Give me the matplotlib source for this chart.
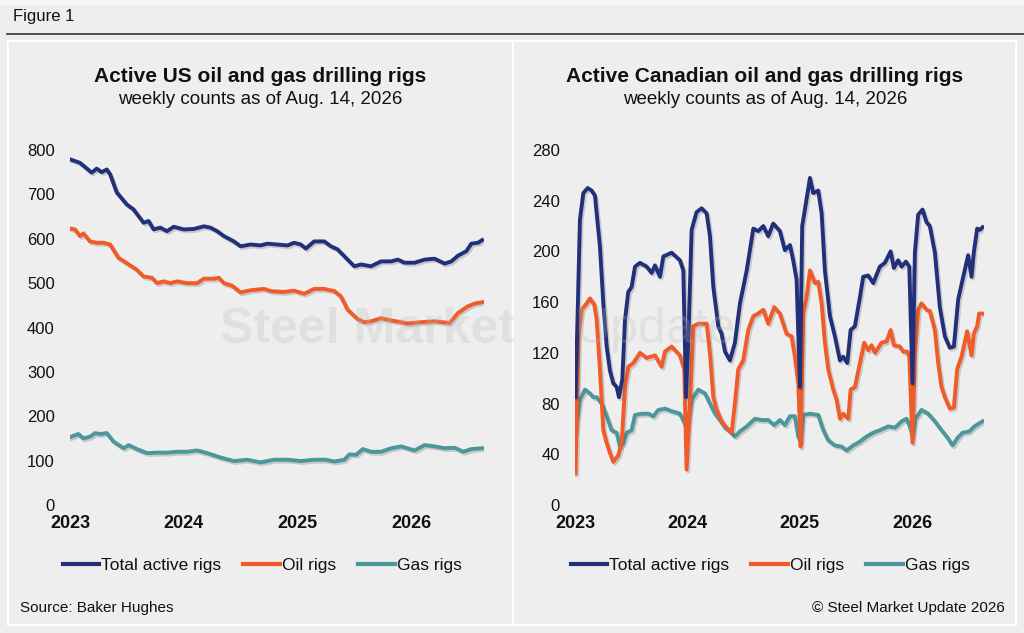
################################################################################
import numpy as np;
import matplotlib;
matplotlib.use('Agg');
import matplotlib.pyplot as plt;
import matplotlib.patheffects as pe;
from matplotlib.patches import Rectangle;
from matplotlib.lines import Line2D;
################################################################################
plt.rcParams['font.family'] = ['Liberation Sans', 'DejaVu Sans'];
################################################################################
# data (decimal years, weekly rig counts)
us_total_t = [2023.000, 2023.088, 2023.191, 2023.235, 2023.279, 2023.324, 2023.353,
    2023.412, 2023.500, 2023.559, 2023.647, 2023.691, 2023.735, 2023.794, 2023.853,
    2023.912, 2024.000, 2024.088, 2024.176, 2024.235, 2024.294, 2024.353, 2024.441,
    2024.500, 2024.588, 2024.676, 2024.735, 2024.824, 2024.912, 2024.971, 2025.029,
    2025.074, 2025.147, 2025.235, 2025.294, 2025.353, 2025.441, 2025.500, 2025.559,
    2025.647, 2025.735, 2025.824, 2025.882, 2025.941, 2026.029, 2026.118, 2026.206,
    2026.294, 2026.353, 2026.412, 2026.485, 2026.529, 2026.588, 2026.624];
us_total = [779, 771, 749, 758, 750, 756, 745, 704, 677, 666, 636, 640, 621, 625, 617,
    627, 621, 622, 628, 625, 617, 606, 594, 583, 587, 585, 589, 587, 585, 591, 587,
    578, 594, 594, 583, 576, 553, 538, 542, 538, 549, 549, 553, 546, 546, 553, 555,
    544, 549, 562, 572, 589, 591, 597];

us_oil_t = [2023.000, 2023.044, 2023.088, 2023.118, 2023.176, 2023.235, 2023.294,
    2023.353, 2023.426, 2023.500, 2023.588, 2023.647, 2023.721, 2023.765, 2023.824,
    2023.882, 2023.941, 2024.029, 2024.118, 2024.176, 2024.265, 2024.309, 2024.353,
    2024.426, 2024.500, 2024.588, 2024.706, 2024.765, 2024.882, 2024.971, 2025.059,
    2025.147, 2025.235, 2025.324, 2025.382, 2025.441, 2025.529, 2025.588, 2025.647,
    2025.735, 2025.824, 2025.912, 2025.971, 2026.088, 2026.206, 2026.338, 2026.412,
    2026.500, 2026.559, 2026.624];
us_oil = [623, 621, 606, 612, 594, 591, 591, 587, 557, 545, 530, 515, 512, 500, 504,
    500, 504, 500, 500, 510, 510, 512, 500, 494, 479, 484, 487, 482, 480, 483, 476,
    487, 487, 482, 470, 440, 419, 412, 414, 421, 416, 412, 409, 412, 414, 410, 433,
    448, 454, 457];

us_gas_t = [2023.000, 2023.074, 2023.118, 2023.176, 2023.221, 2023.265, 2023.324,
    2023.382, 2023.471, 2023.515, 2023.588, 2023.676, 2023.765, 2023.853, 2023.941,
    2024.029, 2024.118, 2024.206, 2024.324, 2024.441, 2024.559, 2024.676, 2024.794,
    2024.912, 2025.029, 2025.147, 2025.250, 2025.324, 2025.412, 2025.456, 2025.515,
    2025.574, 2025.647, 2025.735, 2025.824, 2025.912, 2026.029, 2026.118, 2026.206,
    2026.294, 2026.382, 2026.456, 2026.529, 2026.624];
us_gas = [153, 160, 150, 154, 162, 160, 162, 143, 128, 135, 126, 117, 118, 118, 120,
    120, 123, 117, 107, 99, 102, 96, 102, 102, 99, 102, 102, 98, 102, 114, 113, 126,
    120, 120, 128, 132, 123, 135, 132, 128, 129, 120, 126, 128];

ca_total_t = [2023.005, 2023.044, 2023.074, 2023.113, 2023.148, 2023.178, 2023.193,
    2023.222, 2023.252, 2023.282, 2023.311, 2023.341, 2023.371, 2023.391, 2023.421,
    2023.445, 2023.474, 2023.504, 2023.534, 2023.578, 2023.638, 2023.682, 2023.712,
    2023.756, 2023.786, 2023.860, 2023.934, 2023.964, 2023.988, 2024.008, 2024.038,
    2024.082, 2024.127, 2024.172, 2024.201, 2024.231, 2024.275, 2024.305, 2024.335,
    2024.379, 2024.423, 2024.468, 2024.528, 2024.587, 2024.631, 2024.676, 2024.720,
    2024.764, 2024.824, 2024.868, 2024.913, 2024.942, 2024.972, 2025.002, 2025.022,
    2025.055, 2025.091, 2025.120, 2025.165, 2025.195, 2025.224, 2025.269, 2025.313,
    2025.358, 2025.387, 2025.423, 2025.453, 2025.491, 2025.536, 2025.565, 2025.610,
    2025.654, 2025.713, 2025.758, 2025.809, 2025.838, 2025.876, 2025.907, 2025.945,
    2025.975, 2026.004, 2026.025, 2026.054, 2026.093, 2026.129, 2026.158, 2026.203,
    2026.247, 2026.292, 2026.336, 2026.372, 2026.410, 2026.455, 2026.499, 2026.529,
    2026.549, 2026.579, 2026.603, 2026.627];
ca_total = [85, 225, 246, 250, 248, 244, 230, 204, 159, 125, 106, 96, 93, 85, 99, 146,
    168, 172, 188, 191, 188, 183, 189, 180, 196, 199, 193, 185, 85, 128, 217, 231, 234,
    230, 212, 172, 141, 135, 121, 114, 128, 159, 185, 218, 216, 220, 212, 222, 216, 201,
    205, 193, 178, 93, 220, 238, 258, 246, 248, 230, 185, 149, 133, 114, 117, 112, 138,
    141, 164, 180, 181, 175, 188, 191, 200, 187, 193, 188, 192, 188, 96, 199, 229, 233,
    223, 220, 199, 156, 133, 124, 125, 162, 180, 197, 180, 199, 218, 217, 219];

ca_oil_t = [2023.005, 2023.030, 2023.060, 2023.104, 2023.133, 2023.172, 2023.193,
    2023.222, 2023.252, 2023.282, 2023.311, 2023.341, 2023.385, 2023.415, 2023.445,
    2023.474, 2023.519, 2023.578, 2023.638, 2023.712, 2023.771, 2023.801, 2023.860,
    2023.934, 2023.972, 2023.993, 2024.023, 2024.053, 2024.097, 2024.172, 2024.201,
    2024.231, 2024.261, 2024.305, 2024.350, 2024.394, 2024.423, 2024.453, 2024.497,
    2024.542, 2024.587, 2024.631, 2024.676, 2024.720, 2024.773, 2024.824, 2024.883,
    2024.928, 2024.957, 2024.987, 2025.008, 2025.031, 2025.061, 2025.091, 2025.135,
    2025.165, 2025.195, 2025.224, 2025.254, 2025.298, 2025.328, 2025.358, 2025.387,
    2025.432, 2025.453, 2025.491, 2025.536, 2025.574, 2025.610, 2025.639, 2025.669,
    2025.728, 2025.773, 2025.809, 2025.838, 2025.891, 2025.921, 2025.957, 2025.975,
    2026.004, 2026.025, 2026.054, 2026.084, 2026.129, 2026.158, 2026.203, 2026.232,
    2026.262, 2026.292, 2026.336, 2026.372, 2026.401, 2026.440, 2026.490, 2026.529,
    2026.549, 2026.579, 2026.597, 2026.627];
ca_oil = [25, 133, 154, 159, 163, 158, 146, 107, 59, 49, 41, 34, 39, 49, 93, 109, 112,
    120, 116, 118, 109, 121, 125, 118, 107, 28, 80, 141, 143, 143, 120, 85, 75, 66, 61,
    57, 80, 107, 114, 138, 149, 151, 154, 143, 156, 151, 135, 133, 117, 96, 46, 151,
    164, 185, 175, 176, 159, 128, 107, 91, 83, 68, 72, 68, 91, 93, 112, 128, 122, 126,
    120, 128, 129, 138, 126, 125, 121, 121, 117, 49, 120, 154, 159, 154, 153, 138, 112,
    93, 85, 76, 77, 107, 117, 137, 118, 135, 141, 151, 151];

ca_gas_t = [2023.005, 2023.044, 2023.089, 2023.133, 2023.163, 2023.193, 2023.237,
    2023.282, 2023.326, 2023.371, 2023.400, 2023.430, 2023.460, 2023.504, 2023.534,
    2023.593, 2023.653, 2023.697, 2023.742, 2023.801, 2023.860, 2023.934, 2023.979,
    2023.995, 2024.038, 2024.097, 2024.157, 2024.201, 2024.246, 2024.290, 2024.335,
    2024.379, 2024.423, 2024.468, 2024.528, 2024.602, 2024.661, 2024.720, 2024.773,
    2024.824, 2024.868, 2024.913, 2024.957, 2024.987, 2025.008, 2025.031, 2025.091,
    2025.165, 2025.210, 2025.254, 2025.313, 2025.373, 2025.417, 2025.476, 2025.536,
    2025.595, 2025.654, 2025.713, 2025.787, 2025.847, 2025.907, 2025.951, 2025.980,
    2026.004, 2026.030, 2026.084, 2026.143, 2026.203, 2026.262, 2026.316, 2026.360,
    2026.405, 2026.450, 2026.509, 2026.554, 2026.627];
ca_gas = [59, 83, 91, 88, 85, 85, 80, 70, 59, 57, 46, 49, 57, 59, 71, 72, 72, 70, 75,
    76, 74, 72, 64, 59, 83, 91, 88, 80, 72, 67, 61, 58, 54, 58, 62, 68, 67, 67, 63, 67,
    63, 70, 70, 54, 50, 71, 72, 71, 59, 51, 47, 46, 43, 47, 50, 54, 57, 59, 62, 61, 66,
    68, 62, 54, 68, 75, 72, 66, 59, 53, 47, 53, 57, 58, 62, 66];

years = [2023, 2024, 2025, 2026];
us_yticks = [0, 100, 200, 300, 400, 500, 600, 700, 800];
ca_yticks = [0, 40, 80, 120, 160, 200, 240, 280];
series_names = ['Total active rigs', 'Oil rigs', 'Gas rigs'];
################################################################################
styles = {
    'total': {'color': '#22307a'},
    'oil'  : {'color': '#f15a29'},
    'gas'  : {'color': '#4b979b'},
    'line' : {
        'linewidth'   : 2.8,
        'solid_joinstyle': 'round',
        'path_effects': [pe.SimpleLineShadow(offset=(1.2, -1.4), shadow_color='#444444', alpha=0.22),
                         pe.Normal()],
    },
    'watermark': {
        'color'   : '#b8b8b8',
        'alpha'   : 0.25,
        'va'      : 'baseline',
        'ha'      : 'left',
        'fontsize': 36,
        'zorder'  : 10,
    },
};
bg = '#eeeeee';
W, H = 1024, 633;
################################################################################
def rect(x0, y0, x1, y1):
    # pixel box (top-left origin) -> figure fraction
    return [x0/W, 1 - y1/H, (x1 - x0)/W, (y1 - y0)/H];

def setup_axis(ax, yticks):
    ax.set_facecolor('none');
    for s in ax.spines.values():
        s.set_visible(False);
    ax.set_xlim(2023.0, 2026.64);
    ax.set_ylim(yticks[0], yticks[-1]);
    ax.set_yticks(yticks);
    ax.set_xticks(years);
    ax.set_xticklabels([str(y) for y in years], fontweight='bold', fontsize=13);
    ax.tick_params(axis='y', length=0, pad=11, labelsize=12, labelcolor='#111111');
    ax.tick_params(axis='x', length=0, pad=7, labelcolor='#111111');
    ax.grid(False);

fig = plt.figure(figsize=(W/100, H/100), dpi=100, facecolor=bg);

# frame
fig.add_artist(Rectangle((0, 1 - 5/H), 1, 5/H, transform=fig.transFigure,
    facecolor='#f7f7f7', edgecolor='none'));
fig.add_artist(Line2D([7/W, 1], [1 - 34/H, 1 - 34/H], color='#333333', lw=1.2));
fig.add_artist(Rectangle((8/W, 1 - 625/H), (1016 - 8)/W, (625 - 41)/H,
    transform=fig.transFigure, fill=False, edgecolor='white', lw=1.5));
fig.add_artist(Line2D([513/W, 513/W], [1 - 625/H, 1 - 41/H], color='white', lw=1.5));
fig.text(13/W, 1 - 17/H, 'Figure 1', fontsize=12, va='center', ha='left', color='#111111');

panels = [
    (rect(70, 150, 484, 505), us_yticks, us_total_t, us_total, us_oil_t, us_oil, us_gas_t, us_gas,
     260, 'Active US oil and gas drilling rigs', 262),
    (rect(575, 150, 984, 505), ca_yticks, ca_total_t, ca_total, ca_oil_t, ca_oil, ca_gas_t, ca_gas,
     765, 'Active Canadian oil and gas drilling rigs', 770),
];
for box, yt, tt, tv, ot, ov, gt, gv, tx, title, lx in panels:
    ax = fig.add_axes(box);
    setup_axis(ax, yt);
    l1, = ax.plot(tt, tv, label=series_names[0], **styles['total'], **styles['line']);
    l2, = ax.plot(ot, ov, label=series_names[1], **styles['oil'], **styles['line']);
    l3, = ax.plot(gt, gv, label=series_names[2], **styles['gas'], **styles['line']);
    # put total on top of the others like the original
    l1.set_zorder(4); l2.set_zorder(3); l3.set_zorder(2);
    fig.text(tx/W, 1 - 77/H, title, fontsize=15, fontweight='bold', ha='center', va='center',
        color='#111111');
    fig.text(tx/W, 1 - 100/H, 'weekly counts as of Aug. 14, 2026', fontsize=13.5,
        ha='center', va='center', color='#111111');
    handles = [Line2D([], [], lw=3, **styles[k]) for k in ['total', 'oil', 'gas']];
    fig.legend(handles, series_names, loc='center', bbox_to_anchor=(lx/W, 1 - 565/H),
        ncol=3, frameon=False, fontsize=12.5, handlelength=2.1, handletextpad=0.1,
        columnspacing=1.3, labelcolor='#111111');

# faint watermark laid over the plot, as in the original
fig.text(220/W, 1 - 343/H, 'Steel Market', fontweight='bold', **styles['watermark']);
fig.text(574/W, 1 - 343/H, 'Update', **styles['watermark']);

fig.text(20/W, 1 - 608/H, 'Source: Baker Hughes', fontsize=11, va='center', ha='left',
    color='#111111');
fig.text(1005/W, 1 - 608/H, '\u00a9 Steel Market Update 2026', fontsize=11, va='center',
    ha='right', color='#111111');
################################################################################
fig.savefig('out.png', dpi=100, facecolor=bg);
print("done");
